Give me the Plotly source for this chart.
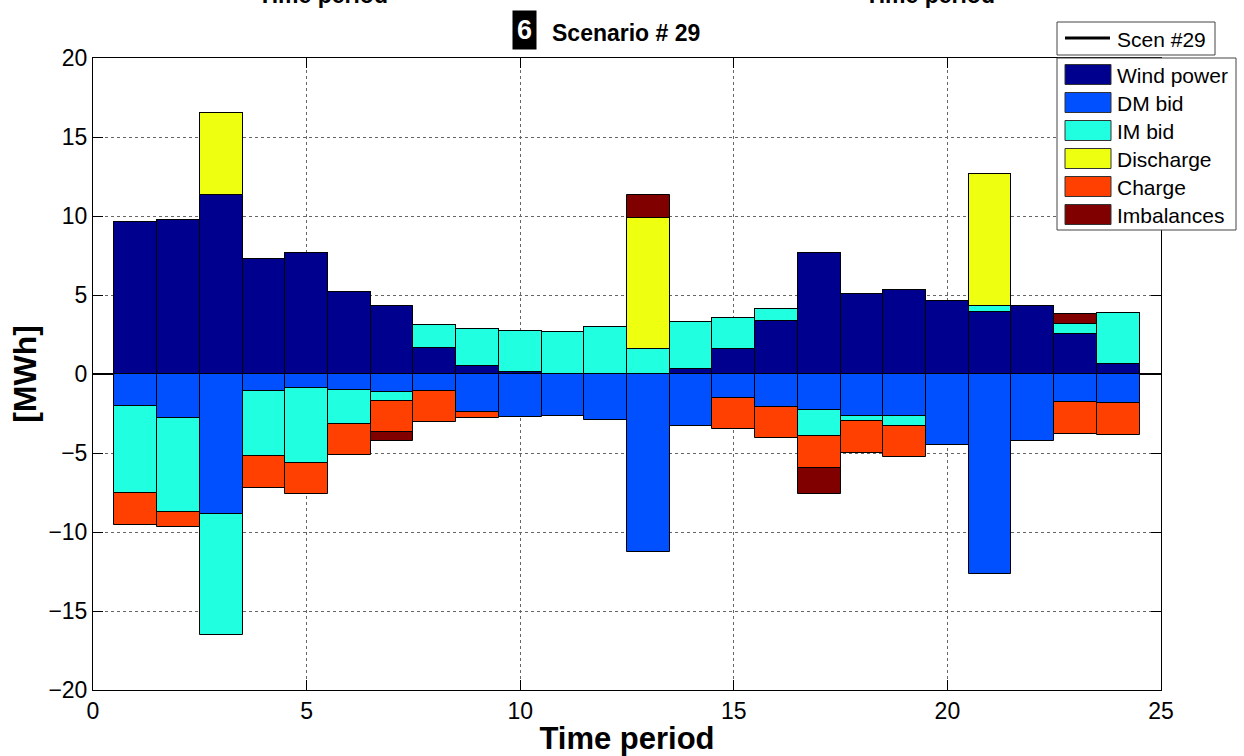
import plotly.graph_objects as go

periods = list(range(1, 25))
wind_power = [9.61, 9.75, 11.33, 7.25, 7.67, 5.21, 4.33, 1.64, 0.50, 0.13, 0.0, 0.0,
              0.0, 0.29, 1.58, 3.34, 7.67, 5.07, 5.34, 4.62, 3.91, 4.33, 2.54, 0.63]
dm_bid = [-2.00, -2.80, -8.83, -1.10, -0.88, -1.03, -1.16, -1.10, -2.40, -2.71, -2.63, -2.90,
          -11.29, -3.26, -1.50, -2.06, -2.30, -2.65, -2.65, -4.50, -12.66, -4.27, -1.79, -1.85]
im_bid = [-5.55, -5.91, -7.70, -4.12, -4.76, -2.11, -0.57, 1.49, 2.34, 2.62, 2.69, 2.98,
          1.58, 3.03, 1.97, 0.76, -1.61, -0.32, -0.63, 0.0, 0.42, 0.0, 0.65, 3.26]
discharge = [0, 0, 5.17, 0, 0, 0, 0, 0, 0, 0, 0, 0,
             8.28, 0, 0, 0, 0, 0, 0, 0, 8.33, 0, 0, 0]
charge = [-1.98, -0.97, 0, -1.97, -1.98, -1.99, -1.97, -1.95, -0.36, 0, 0, 0,
          0, 0, -1.97, -1.98, -2.06, -2.01, -1.98, 0, 0, 0, -1.98, -2.00]
imbalances = [0, 0, 0, 0, 0, 0, -0.57, 0, 0, 0, 0, 0,
              1.45, 0, 0, 0, -1.65, 0, 0, 0, 0, 0, 0.63, 0]

series_names = ["Wind power", "DM bid", "IM bid", "Discharge", "Charge", "Imbalances"]
series_values = [wind_power, dm_bid, im_bid, discharge, charge, imbalances]
series_colors = ["#00008F", "#0050FF", "#20FFDF", "#EFFF10", "#FF4000", "#800000"]

x_ticks = [0, 5, 10, 15, 20, 25]
y_ticks = [-20, -15, -10, -5, 0, 5, 10, 15, 20]

W, H = 1244, 756
L, R, T, B = 93, 83, 58, 66
PW, PH = W - L - R, H - T - B


def px(xp):
    return (xp - L) / PW


def py(yp):
    return (H - B - yp) / PH


FONT = "Liberation Sans, Arial, sans-serif"

fig = go.Figure()
for name, vals, col in zip(series_names, series_values, series_colors):
    fig.add_trace(go.Bar(x=periods, y=vals, name=name, width=1.0,
                         marker=dict(color=col, line=dict(color="black", width=1)),
                         showlegend=False))

shapes = []
annotations = []

# Title
annotations.append(dict(text="<b>6</b>", x=px(524), y=py(30), xref="paper", yref="paper",
                        showarrow=False, font=dict(family=FONT, size=27, color="white"),
                        bgcolor="black", borderpad=4, xanchor="center", yanchor="middle"))
annotations.append(dict(text="<b>Scenario # 29</b>", x=px(550), y=py(33), xref="paper", yref="paper",
                        showarrow=False, font=dict(family=FONT, size=23, color="black"),
                        xanchor="left", yanchor="middle"))
# Cut-off labels of panels above (only their lower part is visible, as in the reference)
for cx in (323, 930):
    annotations.append(dict(text="<b>Time period</b>", x=px(cx), y=py(-5), xref="paper", yref="paper",
                            showarrow=False, font=dict(family=FONT, size=23, color="black"),
                            xanchor="center", yanchor="middle"))

# Legend 1 (line)
shapes.append(dict(type="rect", xref="paper", yref="paper", x0=px(1057), x1=px(1215), y0=py(55), y1=py(22),
                   line=dict(color="#444", width=1), fillcolor="white", layer="above"))
shapes.append(dict(type="line", xref="paper", yref="paper", x0=px(1065), x1=px(1110), y0=py(38), y1=py(38),
                   line=dict(color="black", width=3), layer="above"))
annotations.append(dict(text="Scen #29", x=px(1115), y=py(39), xref="paper", yref="paper",
                        showarrow=False, font=dict(family=FONT, size=21, color="black"),
                        xanchor="left", yanchor="middle"))
# Legend 2 (bars)
shapes.append(dict(type="rect", xref="paper", yref="paper", x0=px(1057), x1=px(1236), y0=py(230), y1=py(58),
                   line=dict(color="#444", width=1), fillcolor="white", layer="above"))
for i, (name, col) in enumerate(zip(series_names, series_colors)):
    cy = 74.5 + 28 * i
    shapes.append(dict(type="rect", xref="paper", yref="paper", x0=px(1065), x1=px(1111),
                       y0=py(cy + 10), y1=py(cy - 10),
                       line=dict(color="#333", width=1), fillcolor=col, layer="above"))
    annotations.append(dict(text=name, x=px(1115), y=py(cy + 1), xref="paper", yref="paper",
                            showarrow=False, font=dict(family=FONT, size=21, color="black"),
                            xanchor="left", yanchor="middle"))

fig.update_layout(
    width=W, height=H,
    margin=dict(l=L, r=R, t=T, b=B, pad=0, autoexpand=False),
    barmode="relative",
    bargap=0,
    plot_bgcolor="white",
    paper_bgcolor="white",
    shapes=shapes,
    annotations=annotations,
    font=dict(family=FONT, color="black"),
)
fig.update_xaxes(range=[0, 25], tickvals=x_ticks, ticks="inside", ticklen=10, tickcolor="black",
                 showline=True, linecolor="black", linewidth=1, mirror="ticks", automargin=False,
                 showgrid=True, gridcolor="#666", griddash="dot", gridwidth=1, zeroline=False,
                 tickfont=dict(family=FONT, size=23, color="black"),
                 title=dict(text="<b>Time period</b>", font=dict(family=FONT, size=31, color="black"),
                            standoff=6))
fig.update_yaxes(range=[-20, 20], tickvals=y_ticks, ticks="inside", ticklen=10, tickcolor="black",
                 showline=True, linecolor="black", linewidth=1, mirror="ticks", automargin=False,
                 showgrid=True, gridcolor="#666", griddash="dot", gridwidth=1,
                 zeroline=True, zerolinecolor="black", zerolinewidth=1.5,
                 tickfont=dict(family=FONT, size=23, color="black"),
                 title=dict(text="<b>[MWh]</b>", font=dict(family=FONT, size=32, color="black"),
                            standoff=2))

fig.write_html("out.html")
